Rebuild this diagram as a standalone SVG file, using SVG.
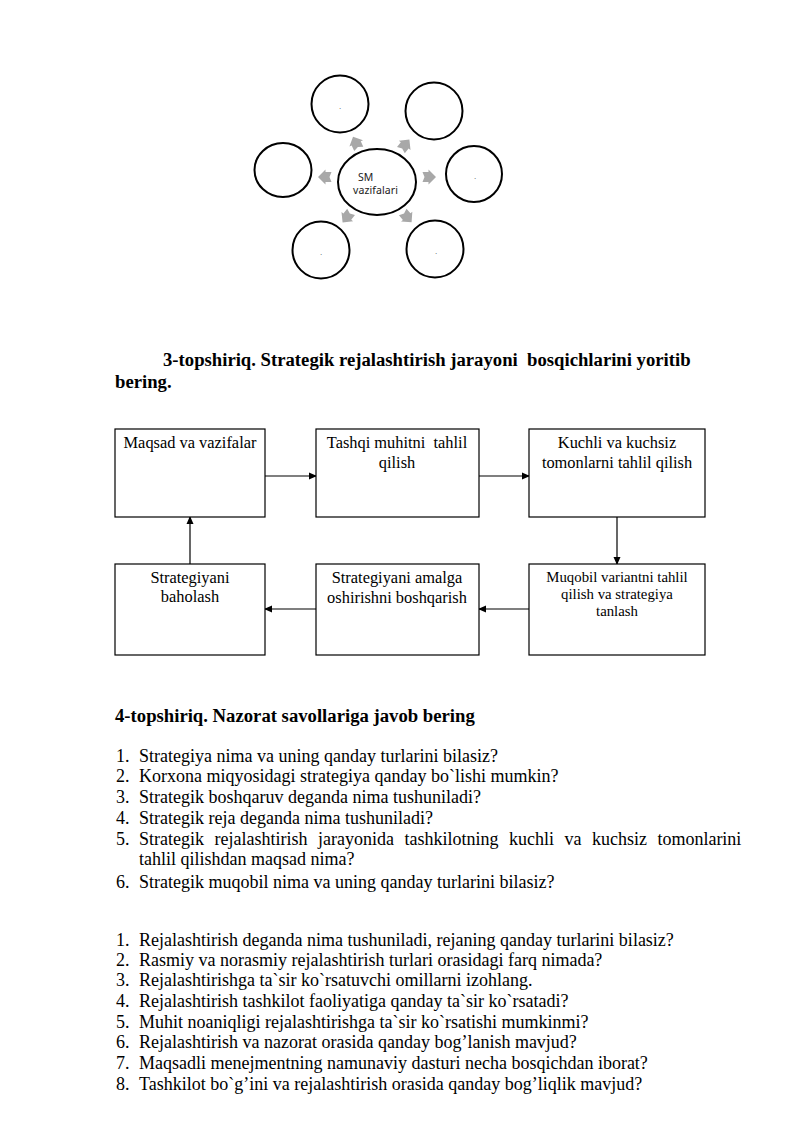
<svg xmlns="http://www.w3.org/2000/svg" width="800" height="1131" viewBox="0 0 800 1131">
<style>
.c{fill:#fff;stroke:#000;stroke-width:2}
.b{fill:#fff;stroke:#000;stroke-width:1.2}
.t{font-family:"Liberation Serif","Times New Roman",serif;font-size:18px;fill:#000}
.h{font-family:"Liberation Serif","Times New Roman",serif;font-size:18.7px;font-weight:bold;fill:#000}
.bx{font-family:"Liberation Serif","Times New Roman",serif;font-size:16.4px;fill:#000;text-anchor:middle}
.bs{font-family:"Liberation Serif","Times New Roman",serif;font-size:14.8px;fill:#000;text-anchor:middle}
.s{font-family:"Noto Sans","Liberation Sans",sans-serif;font-size:10.5px;fill:#222}
.d{font-family:"Liberation Sans",sans-serif;font-size:8px;fill:#444;text-anchor:middle}
.ln{stroke:#000;stroke-width:1.2;fill:none;marker-end:url(#ah)}
</style>
<defs>
<marker id="ah" markerWidth="8" markerHeight="8" refX="7" refY="4" orient="auto" markerUnits="userSpaceOnUse">
<path d="M0,0.5 L8,4 L0,7.5 Z" fill="#000"/>
</marker>
<path id="ga" d="M-6.5,-5 L-0.5,-5 L-0.5,-7.5 L7,0 L-0.5,7.5 L-0.5,5 L-6.5,5 L-4.5,0 Z" fill="#a8a8a8"/>
</defs>
<rect width="800" height="1131" fill="#fff"/>

<g id="cycle">
<g id="center"><ellipse class="c" cx="377" cy="182" rx="39" ry="33"/>
<text class="s" x="358" y="181">SM</text><text class="s" x="353" y="194" textLength="45">vazifalari</text></g>
<g id="c1"><circle class="c" cx="340" cy="104" r="28.5"/><text class="d" x="340" y="109">.</text></g>
<g id="c2"><circle class="c" cx="434" cy="111" r="28.5"/></g>
<g id="c3"><ellipse class="c" cx="283" cy="170" rx="28.5" ry="27"/></g>
<g id="c4"><circle class="c" cx="474" cy="174" r="28"/><text class="d" x="475" y="179">.</text></g>
<g id="c5"><circle class="c" cx="321" cy="250" r="28.5"/><text class="d" x="321" y="255">.</text></g>
<g id="c6"><circle class="c" cx="435" cy="249" r="28.5"/><text class="d" x="436" y="254">.</text></g>
<g id="grayArrows">
<use href="#ga" transform="translate(356,143) rotate(-115)"/>
<use href="#ga" transform="translate(405,145) rotate(-51)"/>
<use href="#ga" transform="translate(325,177) rotate(180)"/>
<use href="#ga" transform="translate(429,177)"/>
<use href="#ga" transform="translate(347,217) rotate(129)"/>
<use href="#ga" transform="translate(407,217) rotate(49)"/>
</g>
</g>

<text class="h" x="163" y="366" xml:space="preserve">3-topshiriq. Strategik rejalashtirish jarayoni  bosqichlarini yoritib</text>
<text class="h" x="115" y="388">bering.</text>

<g id="connectors">
<line class="ln" x1="265" y1="476" x2="316" y2="476"/>
<line class="ln" x1="479" y1="476" x2="529" y2="476"/>
<line class="ln" x1="617" y1="517" x2="617" y2="564"/>
<line class="ln" x1="529" y1="609" x2="479" y2="609"/>
<line class="ln" x1="316" y1="609" x2="265" y2="609"/>
<line class="ln" x1="190" y1="564" x2="190" y2="517"/>
</g>

<g id="n1"><rect class="b" x="115" y="429" width="150" height="88"/><text class="bx" x="190" y="448">Maqsad va vazifalar</text></g>
<g id="n2"><rect class="b" x="316" y="429" width="163" height="88"/><text class="bx" x="397" y="448" xml:space="preserve">Tashqi muhitni  tahlil</text><text class="bx" x="397" y="468">qilish</text></g>
<g id="n3"><rect class="b" x="529" y="429" width="176" height="88"/><text class="bx" x="617" y="448">Kuchli va kuchsiz</text><text class="bx" x="617" y="468">tomonlarni tahlil qilish</text></g>
<g id="n4"><rect class="b" x="529" y="564" width="176" height="91"/><text class="bs" x="617" y="582">Muqobil variantni tahlil</text><text class="bs" x="617" y="599">qilish va strategiya</text><text class="bs" x="617" y="616">tanlash</text></g>
<g id="n5"><rect class="b" x="316" y="564" width="163" height="91"/><text class="bx" x="397" y="583">Strategiyani amalga</text><text class="bx" x="397" y="603">oshirishni boshqarish</text></g>
<g id="n6"><rect class="b" x="115" y="564" width="150" height="91"/><text class="bx" x="190" y="583">Strategiyani</text><text class="bx" x="190" y="602">baholash</text></g>

<text class="h" x="115" y="722">4-topshiriq. Nazorat savollariga javob bering</text>
<g id="list1">
<text class="t" x="116" y="762">1.</text><text class="t" x="139" y="762">Strategiya nima va uning qanday turlarini bilasiz?</text>
<text class="t" x="116" y="782">2.</text><text class="t" x="139" y="782">Korxona miqyosidagi strategiya qanday bo`lishi mumkin?</text>
<text class="t" x="116" y="803">3.</text><text class="t" x="139" y="803">Strategik boshqaruv deganda nima tushuniladi?</text>
<text class="t" x="116" y="824">4.</text><text class="t" x="139" y="824">Strategik reja deganda nima tushuniladi?</text>
<text class="t" x="116" y="845">5.</text><text class="t" x="139" y="845" word-spacing="6">Strategik rejalashtirish jarayonida tashkilotning kuchli va kuchsiz tomonlarini</text>
<text class="t" x="139" y="865">tahlil qilishdan maqsad nima?</text>
<text class="t" x="116" y="888">6.</text><text class="t" x="139" y="888">Strategik muqobil nima va uning qanday turlarini bilasiz?</text>
</g>
<g id="list2">
<text class="t" x="116" y="946">1.</text><text class="t" x="139" y="946">Rejalashtirish deganda nima tushuniladi, rejaning qanday turlarini bilasiz?</text>
<text class="t" x="116" y="966">2.</text><text class="t" x="139" y="966">Rasmiy va norasmiy rejalashtirish turlari orasidagi farq nimada?</text>
<text class="t" x="116" y="986">3.</text><text class="t" x="139" y="986">Rejalashtirishga ta`sir ko`rsatuvchi omillarni izohlang.</text>
<text class="t" x="116" y="1007">4.</text><text class="t" x="139" y="1007">Rejalashtirish tashkilot faoliyatiga qanday ta`sir ko`rsatadi?</text>
<text class="t" x="116" y="1028">5.</text><text class="t" x="139" y="1028">Muhit noaniqligi rejalashtirishga ta`sir ko`rsatishi mumkinmi?</text>
<text class="t" x="116" y="1048">6.</text><text class="t" x="139" y="1048">Rejalashtirish va nazorat orasida qanday bog’lanish mavjud?</text>
<text class="t" x="116" y="1069">7.</text><text class="t" x="139" y="1069">Maqsadli menejmentning namunaviy dasturi necha bosqichdan iborat?</text>
<text class="t" x="116" y="1090">8.</text><text class="t" x="139" y="1090">Tashkilot bo`g’ini va rejalashtirish orasida qanday bog’liqlik mavjud?</text>
</g>
</svg>
